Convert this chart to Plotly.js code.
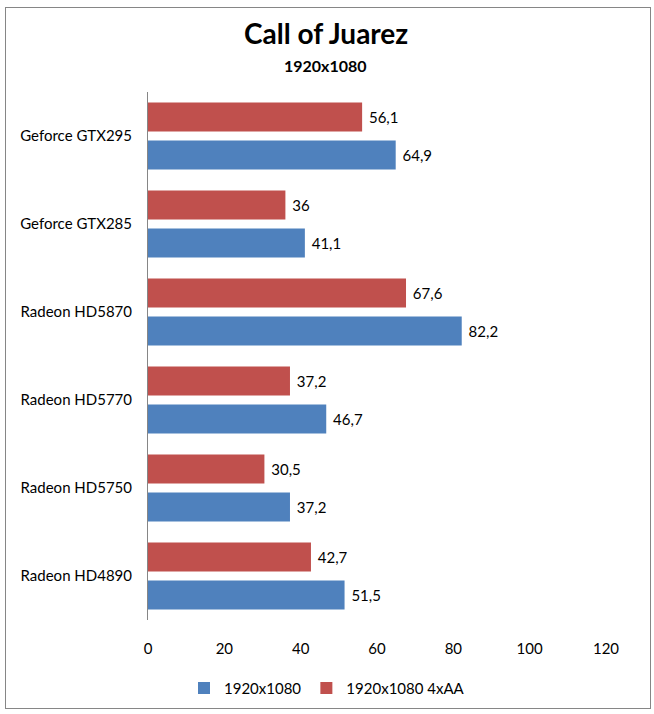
<!DOCTYPE html>
<html>
<head>
<meta charset="utf-8">
<script src="https://cdn.plot.ly/plotly-3.0.1.min.js"></script>
<style>
  body { margin: 0; background: #fff; }
  #wrap { position: relative; width: 654px; height: 714px; }
  #graph { width: 654px; height: 714px; }
  #frame { position: absolute; left: 5px; top: 7px; width: 644px; height: 700px;
           border: 1px solid #868686; pointer-events: none; }
</style>
</head>
<body>
<div id="wrap">
  <div id="graph"></div>
  <div id="frame"></div>
</div>
<script>
// categories listed top to bottom as in the picture
const cards = ["Geforce GTX295", "Geforce GTX285", "Radeon HD5870",
               "Radeon HD5770", "Radeon HD5750", "Radeon HD4890"];
const fpsPlain = [64.9, 41.1, 82.2, 46.7, 37.2, 51.5];
const fpsAA = [56.1, 36, 67.6, 37.2, 30.5, 42.7];
const xTicks = [0, 20, 40, 60, 80, 100, 120];

const labelFont = {family: "Lato, 'Open Sans', sans-serif", size: 15, color: "#000"};

// decimal comma like the original, small lead space for the gap after the bar
function commaText(arr){
    return arr.map(v => " " + String(v).replace(".", ","));
}

let data = [
    {
        type: "bar", orientation: "h", name: "1920x1080 4xAA",
        y: cards, x: fpsAA, text: commaText(fpsAA),
        textposition: "outside", textfont: labelFont, cliponaxis: false,
        marker: {color: "#C0504D"}
    },
    {
        type: "bar", orientation: "h", name: "1920x1080",
        y: cards, x: fpsPlain, text: commaText(fpsPlain),
        textposition: "outside", textfont: labelFont, cliponaxis: false,
        marker: {color: "#4F81BD"}
    }
];

let layout = {
    width: 654, height: 714,
    paper_bgcolor: "#fff", plot_bgcolor: "#fff",
    font: labelFont,
    margin: {l: 148, r: 48, t: 92, b: 94, pad: 0},
    barmode: "group",
    bargap: 0.136,
    bargroupgap: 0.237,
    showlegend: true,
    legend: {
        orientation: "h", traceorder: "reversed",
        x: 0.5, xanchor: "center", xref: "container",
        y: 0.036, yanchor: "middle", yref: "container",
        font: labelFont, itemwidth: 30
    },
    xaxis: {
        range: [0, 120], tickvals: xTicks, ticktext: xTicks.map(String),
        showgrid: false, zeroline: false, showline: false,
        ticks: "", ticklabelstandoff: 18, tickfont: labelFont, fixedrange: true
    },
    yaxis: {
        autorange: "reversed", showgrid: false, zeroline: false,
        showline: true, linecolor: "#868686", linewidth: 1,
        ticks: "", ticklabelstandoff: 12, tickfont: labelFont, fixedrange: true
    },
    annotations: [
        {
            text: "<b>Call of Juarez</b>", xref: "paper", yref: "paper",
            x: 0.388, y: 1.112, xanchor: "center", yanchor: "middle", showarrow: false,
            font: {family: "Lato, 'Open Sans', sans-serif", size: 28, color: "#000"}
        },
        {
            text: "<b>1920x1080</b>", xref: "paper", yref: "paper",
            x: 0.388, y: 1.05, xanchor: "center", yanchor: "middle", showarrow: false,
            font: {family: "Lato, 'Open Sans', sans-serif", size: 16, color: "#000"}
        }
    ]
};

Plotly.newPlot("graph", data, layout, {displayModeBar: false, staticPlot: true});
</script>
</body>
</html>
